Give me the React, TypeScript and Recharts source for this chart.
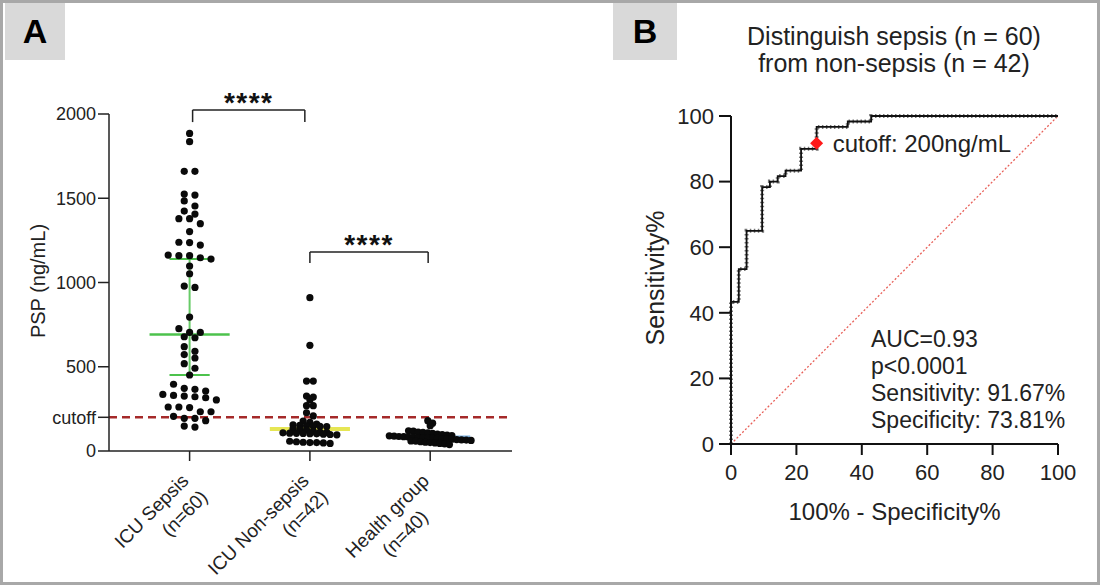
import React from 'react';
import {
  ScatterChart,
  Scatter,
  XAxis,
  YAxis,
  ReferenceLine,
  ReferenceDot,
  ComposedChart,
  Line,
  Label,
} from 'recharts';

const FONT = '"Liberation Sans", Arial, Helvetica, sans-serif';

// ---------- Panel A data ----------
const groupNames = ['ICU Sepsis', 'ICU Non-sepsis', 'Health group'];
const groupSizes = ['(n=60)', '(n=42)', '(n=40)'];

const sepsisPSP = [
  1885, 1836, 1660, 1660, 1525, 1519, 1484, 1454, 1424, 1406, 1379, 1379, 1349, 1302, 1239,
  1237, 1222, 1163, 1159, 1159, 1147, 1139, 1098, 1052, 979, 971, 795, 726, 704, 704, 678, 672,
  619, 592, 572, 552, 518, 491, 451, 396, 372, 366, 356, 336, 330, 326, 322, 316, 303, 261, 261,
  258, 233, 233, 206, 194, 194, 180, 148, 142,
];
const nonSepsisPSP = [
  910, 627, 415, 415, 326, 320, 303, 269, 269, 227, 208, 178, 170, 160, 155, 152, 150, 148, 147,
  145, 132, 128, 125, 118, 112, 110, 108, 106, 105, 104, 103, 102, 100, 98, 96, 58, 55, 52, 50,
  50, 48, 45,
];
const healthPSP = [
  180, 165, 150, 120, 118, 112, 110, 108, 105, 100, 98, 95, 92, 90, 88, 86, 85, 83, 82, 80, 80,
  78, 76, 75, 73, 72, 70, 68, 66, 65, 63, 60, 58, 55, 52, 50, 48, 45, 42, 38,
];
const groupMedians = [691, 130, 83];
const sepsisQuartiles = [451, 1139];
const cutoffPSP = 200;
const yTicksA = [0, 200, 500, 1000, 1500, 2000];

// ---------- Panel B data ----------
const fprPct = [0, 0, 2.38, 2.38, 4.76, 4.76, 9.52, 9.52, 11.9, 11.9, 14.29, 14.29, 16.67, 16.67, 21.43, 21.43, 26.19, 26.19, 35.71, 35.71, 42.86, 42.86, 100];
const tprPct = [0, 43.33, 43.33, 53.33, 53.33, 65, 65, 78.33, 78.33, 80, 80, 81.67, 81.67, 83.33, 83.33, 90, 90, 96.67, 96.67, 98.33, 98.33, 100, 100];
const cutoffPoint = { x: 26.19, y: 91.67 };
const ticksB = [0, 20, 40, 60, 80, 100];
const rocStats = ['AUC=0.93', 'p<0.0001', 'Sensitivity: 91.67%', 'Specificity: 73.81%'];

// beeswarm-like row layout (GraphPad style)
function swarm(values: number[], group: number, bin: number, step: number) {
  const sorted = [...values].sort((a, b) => b - a);
  const rows: number[][] = [];
  let cur: number[] = [];
  for (const v of sorted) {
    if (cur.length && cur[0] - v > bin) {
      rows.push(cur);
      cur = [];
    }
    cur.push(v);
  }
  if (cur.length) rows.push(cur);
  const pts: { x: number; y: number }[] = [];
  rows.forEach((row) => {
    const n = row.length;
    row.forEach((v, i) => pts.push({ x: group + (i - (n - 1) / 2) * step, y: v }));
  });
  return pts;
}

const dotsA = [
  ...swarm(sepsisPSP, 0, 40, 0.089),
  ...swarm(nonSepsisPSP, 1, 22, 0.056),
  ...swarm(healthPSP, 2, 28, 0.04),
];

const rocData = fprPct.map((x, i) => ({ x, y: tprPct[i] }));

const dotShape = (p: any) => <circle cx={p.cx} cy={p.cy} r={3.6} fill="#0a0a0a" />;
const diamondShape = (p: any) => (
  <polygon
    points={`${p.cx},${p.cy - 6.5} ${p.cx + 6.5},${p.cy} ${p.cx},${p.cy + 6.5} ${p.cx - 6.5},${p.cy}`}
    fill="#ff1a1a"
  />
);

const CatTick = (props: any) => {
  const { x, y, payload } = props;
  const i = Math.round(payload.value);
  const second = i === 2 ? 'middle' : 'end';
  return (
    <g transform={`translate(${x},${y + 19}) rotate(-45)`}>
      <text x={0} y={0} textAnchor="end" fontSize={19} fill="#222" fontFamily={FONT}>
        {groupNames[i]}
      </text>
      <text
        x={i === 2 ? -54 : 2}
        y={25}
        textAnchor={second}
        fontSize={19}
        fill="#222"
        fontFamily={FONT}
      >
        {groupSizes[i]}
      </text>
    </g>
  );
};

const green = '#4cc24c';

function PanelA() {
  return (
    <ScatterChart width={560} height={585} margin={{ top: 114, right: 48, bottom: 4, left: 49 }}>
      <XAxis
        type="number"
        dataKey="x"
        domain={[-0.67, 2.68]}
        ticks={[0, 1, 2]}
        allowDataOverflow
        height={130}
        tickSize={10}
        tickMargin={2}
        tick={<CatTick />}
        axisLine={{ stroke: '#222', strokeWidth: 1.5 }}
        tickLine={{ stroke: '#222', strokeWidth: 1.5 }}
      />
      <YAxis
        type="number"
        dataKey="y"
        domain={[0, 2000]}
        ticks={yTicksA}
        width={60}
        tickSize={11}
        tickMargin={2}
        tickFormatter={(v: number) => (v === cutoffPSP ? 'cutoff' : String(v))}
        tick={{ fontSize: 18, fill: '#222', fontFamily: FONT }}
        axisLine={{ stroke: '#222', strokeWidth: 1.5 }}
        tickLine={{ stroke: '#222', strokeWidth: 1.5 }}
      >
        <Label
          content={() => (
            <text
              transform="translate(45,281) rotate(-90)"
              textAnchor="middle"
              fontSize={20}
              fill="#222"
              fontFamily={FONT}
            >
              PSP (ng/mL)
            </text>
          )}
        />
      </YAxis>
      <ReferenceLine y={cutoffPSP} stroke="#a52a2a" strokeWidth={2.5} strokeDasharray="8 5" />
      <Scatter data={dotsA} shape={dotShape} isAnimationActive={false} />
      {/* median / IQR markers */}
      <ReferenceLine
        segment={[{ x: -0.333, y: groupMedians[0] }, { x: 0.333, y: groupMedians[0] }]}
        stroke={green}
        strokeWidth={2.5}
        ifOverflow="visible"
      />
      <ReferenceLine
        segment={[{ x: -0.167, y: sepsisQuartiles[0] }, { x: 0.167, y: sepsisQuartiles[0] }]}
        stroke={green}
        strokeWidth={2}
        ifOverflow="visible"
      />
      <ReferenceLine
        segment={[{ x: -0.167, y: sepsisQuartiles[1] }, { x: 0.167, y: sepsisQuartiles[1] }]}
        stroke={green}
        strokeWidth={2}
        ifOverflow="visible"
      />
      <ReferenceLine
        segment={[{ x: 0, y: sepsisQuartiles[0] }, { x: 0, y: sepsisQuartiles[1] }]}
        stroke={green}
        strokeWidth={2}
        strokeOpacity={0.85}
        ifOverflow="visible"
      />
      <ReferenceLine
        segment={[{ x: 0.667, y: groupMedians[1] }, { x: 1.333, y: groupMedians[1] }]}
        stroke="#e2e236"
        strokeWidth={4}
        strokeOpacity={0.85}
        ifOverflow="visible"
      />
      <ReferenceLine
        segment={[{ x: 1.667, y: groupMedians[2] }, { x: 2.333, y: groupMedians[2] }]}
        stroke="#5b9bd5"
        strokeWidth={3}
        strokeOpacity={0.8}
        ifOverflow="visible"
      />
      {/* significance brackets */}
      <ReferenceLine
        segment={[{ x: 0.025, y: 2024 }, { x: 0.958, y: 2024 }]}
        stroke="#222"
        strokeWidth={1.5}
        ifOverflow="visible"
        label={{ value: '****', position: 'top', offset: -2, fontSize: 28, fontWeight: 'bold', fill: '#111', fontFamily: FONT, letterSpacing: 1.5 } as any}
      />
      <ReferenceLine segment={[{ x: 0.025, y: 2024 }, { x: 0.025, y: 1952 }]} stroke="#222" strokeWidth={1.5} ifOverflow="visible" />
      <ReferenceLine segment={[{ x: 0.958, y: 2024 }, { x: 0.958, y: 1952 }]} stroke="#222" strokeWidth={1.5} ifOverflow="visible" />
      <ReferenceLine
        segment={[{ x: 1.0, y: 1181 }, { x: 1.983, y: 1181 }]}
        stroke="#222"
        strokeWidth={1.5}
        ifOverflow="visible"
        label={{ value: '****', position: 'top', offset: -2, fontSize: 28, fontWeight: 'bold', fill: '#111', fontFamily: FONT, letterSpacing: 1.5 } as any}
      />
      <ReferenceLine segment={[{ x: 1.0, y: 1181 }, { x: 1.0, y: 1116 }]} stroke="#222" strokeWidth={1.5} ifOverflow="visible" />
      <ReferenceLine segment={[{ x: 1.983, y: 1181 }, { x: 1.983, y: 1116 }]} stroke="#222" strokeWidth={1.5} ifOverflow="visible" />
    </ScatterChart>
  );
}

function PanelB() {
  return (
    <ComposedChart width={540} height={585} data={rocData} margin={{ top: 116, right: 42, bottom: 56, left: 111 }}>
      <XAxis
        type="number"
        dataKey="x"
        domain={[0, 100]}
        ticks={ticksB}
        height={85}
        tickSize={11}
        tickMargin={9}
        tick={{ fontSize: 22, fill: '#222', fontFamily: FONT }}
        axisLine={{ stroke: '#111', strokeWidth: 2 }}
        tickLine={{ stroke: '#111', strokeWidth: 2 }}
      >
        <Label
          value="100% - Specificity%"
          position="insideBottom"
          offset={9}
          fontSize={24}
          fill="#222"
          fontFamily={FONT}
        />
      </XAxis>
      <YAxis
        type="number"
        dataKey="y"
        domain={[0, 100]}
        ticks={ticksB}
        width={60}
        tickSize={12}
        tickMargin={5}
        tick={{ fontSize: 22, fill: '#222', fontFamily: FONT }}
        axisLine={{ stroke: '#111', strokeWidth: 2 }}
        tickLine={{ stroke: '#111', strokeWidth: 2 }}
      >
        <Label
          content={() => (
            <text
              transform="translate(104,278) rotate(-90)"
              textAnchor="middle"
              fontSize={25}
              fill="#222"
              fontFamily={FONT}
            >
              Sensitivity%
            </text>
          )}
        />
      </YAxis>
      <ReferenceLine
        segment={[{ x: 0, y: 0 }, { x: 100, y: 100 }]}
        stroke="#e8615a"
        strokeWidth={1.3}
        strokeDasharray="2 2"
      />
      <Line
        type="linear"
        dataKey="y"
        stroke="#777"
        strokeWidth={4}
        strokeDasharray="1.5 2.5"
        dot={false}
        isAnimationActive={false}
      />
      <Line type="linear" dataKey="y" stroke="#111" strokeWidth={1.8} dot={false} isAnimationActive={false} />
      <Scatter data={[cutoffPoint]} dataKey="y" shape={diamondShape} isAnimationActive={false} />
      <ReferenceDot
        x={cutoffPoint.x}
        y={cutoffPoint.y}
        r={0}
        stroke="none"
        fill="none"
        label={{ value: 'cutoff: 200ng/mL', position: 'right', offset: 16, fontSize: 24, fill: '#222', fontFamily: FONT } as any}
      />
    </ComposedChart>
  );
}

export default function App() {
  return (
    <div
      style={{
        position: 'fixed',
        left: 0,
        top: 0,
        width: 1100,
        height: 585,
        background: '#fff',
        boxSizing: 'border-box',
        border: '3px solid #a8a8a8',
        fontFamily: FONT,
        overflow: 'hidden',
      }}
    >
      <div style={{ position: 'absolute', left: -3, top: -3 }}>
        <PanelA />
      </div>
      <div style={{ position: 'absolute', left: 557, top: -3 }}>
        <PanelB />
      </div>
      <div
        style={{
          position: 'absolute',
          left: 2,
          top: 0,
          width: 60,
          height: 57,
          background: '#d9d9d9',
          display: 'flex',
          alignItems: 'center',
          justifyContent: 'center',
          fontSize: 34,
          fontWeight: 'bold',
          color: '#000',
        }}
      >
        A
      </div>
      <div
        style={{
          position: 'absolute',
          left: 610,
          top: 0,
          width: 64,
          height: 57,
          background: '#d9d9d9',
          display: 'flex',
          alignItems: 'center',
          justifyContent: 'center',
          fontSize: 34,
          fontWeight: 'bold',
          color: '#000',
        }}
      >
        B
      </div>
      <div
        style={{
          position: 'absolute',
          left: 691,
          top: 20,
          width: 400,
          textAlign: 'center',
          fontSize: 25,
          lineHeight: '27px',
          color: '#222',
        }}
      >
        <div>Distinguish sepsis (n = 60)</div>
        <div>from non-sepsis (n = 42)</div>
      </div>
      <div
        style={{
          position: 'absolute',
          left: 868,
          top: 323,
          fontSize: 23,
          lineHeight: '27px',
          color: '#222',
          whiteSpace: 'nowrap',
        }}
      >
        {rocStats.map((s) => (
          <div key={s}>{s}</div>
        ))}
      </div>
    </div>
  );
}
